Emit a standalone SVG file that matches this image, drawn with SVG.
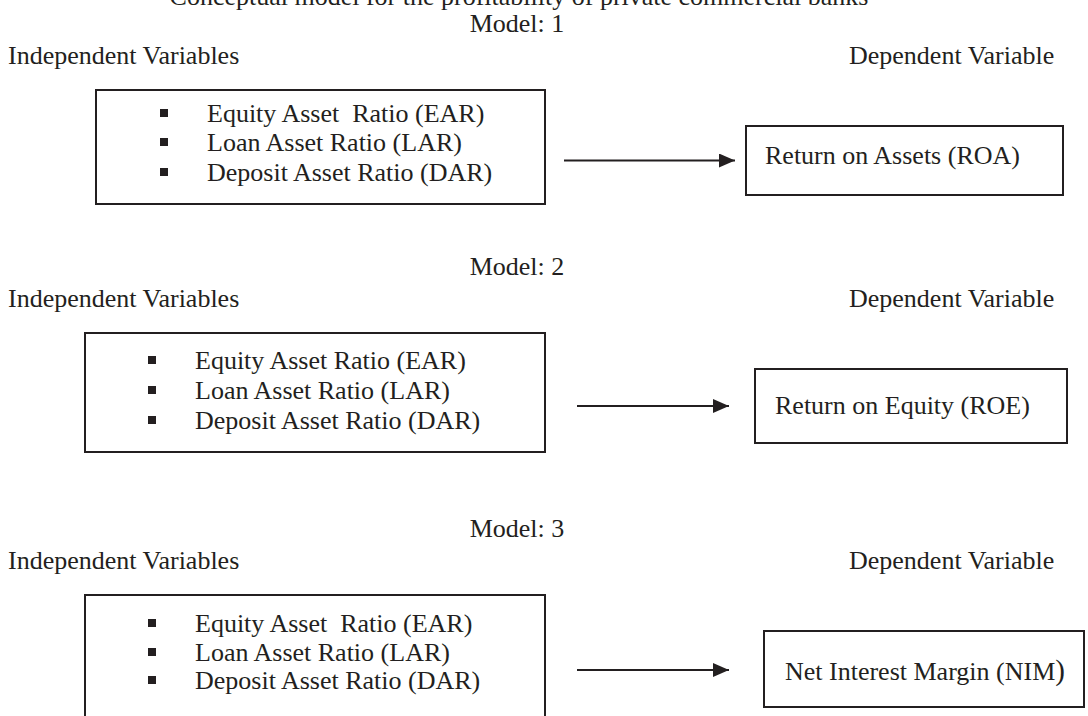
<svg xmlns="http://www.w3.org/2000/svg" width="1088" height="716" viewBox="0 0 1088 716">
<defs>
<style>
text{font-family:"Liberation Serif","Times New Roman",serif;font-size:26px;fill:#231f20}
.c{text-anchor:middle}
.box{fill:none;stroke:#231f20;stroke-width:2}
.conn{stroke:#231f20;stroke-width:2;fill:none}
.b{fill:#231f20}
</style>
<marker id="ah" markerWidth="16" markerHeight="14" refX="16" refY="7" orient="auto" markerUnits="userSpaceOnUse">
<path d="M0,0 L16,7 L0,14 Z" fill="#231f20"/>
</marker>
</defs>
<rect width="1088" height="716" fill="#fff"/>
<text class="c" x="519" y="5">Conceptual model for the profitability of private commercial banks</text>

<g id="model1">
<text class="c" x="517" y="32">Model: 1</text>
<text x="8" y="64">Independent Variables</text>
<text x="849" y="64">Dependent Variable</text>
</g>
<g id="ind1">
<rect class="box" x="96" y="90" width="449" height="114"/>
<rect class="b" x="160" y="109" width="8" height="8"/>
<rect class="b" x="160" y="138" width="8" height="8"/>
<rect class="b" x="160" y="168" width="8" height="8"/>
<text x="207" y="122" xml:space="preserve">Equity Asset  Ratio (EAR)</text>
<text x="207" y="151">Loan Asset Ratio (LAR)</text>
<text x="207" y="181">Deposit Asset Ratio (DAR)</text>
</g>
<g id="dep1">
<rect class="box" x="746" y="126" width="317" height="69"/>
<text x="765" y="164">Return on Assets (ROA)</text>
</g>

<g id="model2">
<text class="c" x="517" y="275">Model: 2</text>
<text x="8" y="307">Independent Variables</text>
<text x="849" y="307">Dependent Variable</text>
</g>
<g id="ind2">
<rect class="box" x="85" y="333" width="460" height="119"/>
<rect class="b" x="148" y="356" width="8" height="8"/>
<rect class="b" x="148" y="386" width="8" height="8"/>
<rect class="b" x="148" y="416" width="8" height="8"/>
<text x="195" y="369">Equity Asset Ratio (EAR)</text>
<text x="195" y="399">Loan Asset Ratio (LAR)</text>
<text x="195" y="429">Deposit Asset Ratio (DAR)</text>
</g>
<g id="dep2">
<rect class="box" x="755" y="369" width="312" height="74"/>
<text x="775" y="414">Return on Equity (ROE)</text>
</g>

<g id="model3">
<text class="c" x="517" y="537">Model: 3</text>
<text x="8" y="569">Independent Variables</text>
<text x="849" y="569">Dependent Variable</text>
</g>
<g id="ind3">
<path class="box" d="M85,730 V595 H545 V730"/>
<rect class="b" x="148" y="619" width="8" height="8"/>
<rect class="b" x="148" y="648" width="8" height="8"/>
<rect class="b" x="148" y="676" width="8" height="8"/>
<text x="195" y="632" xml:space="preserve">Equity Asset  Ratio (EAR)</text>
<text x="195" y="661">Loan Asset Ratio (LAR)</text>
<text x="195" y="689">Deposit Asset Ratio (DAR)</text>
</g>
<g id="dep3">
<rect class="box" x="764" y="631" width="320" height="76"/>
<text x="785" y="680">Net Interest Margin (NIM<tspan font-size="29">)</tspan></text>
</g>

<g id="connectors">
<line class="conn" x1="564" y1="160.5" x2="735" y2="160.5" marker-end="url(#ah)"/>
<line class="conn" x1="577" y1="406" x2="729" y2="406" marker-end="url(#ah)"/>
<line class="conn" x1="577" y1="670" x2="729" y2="670" marker-end="url(#ah)"/>
</g>
</svg>
